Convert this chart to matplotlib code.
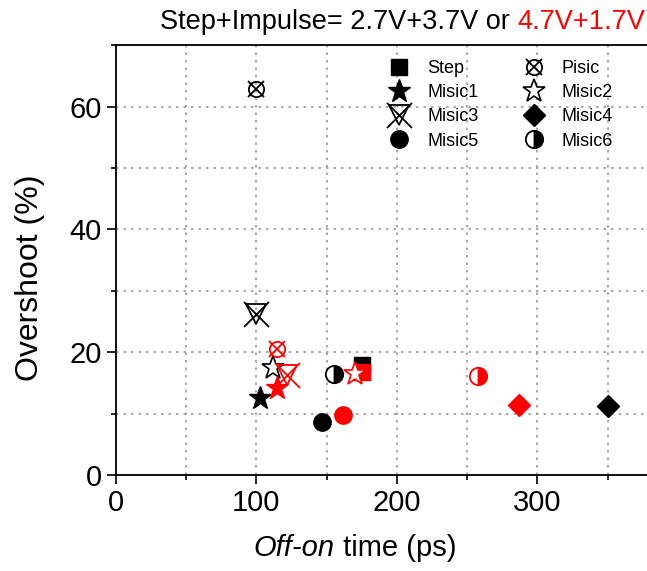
import matplotlib
matplotlib.use("Agg")
import matplotlib.pyplot as plt
from matplotlib.legend_handler import HandlerTuple
from matplotlib.ticker import MultipleLocator
from matplotlib.offsetbox import TextArea, HPacker, AnchoredOffsetbox

plt.rcParams['font.family'] = ['Liberation Sans', 'DejaVu Sans']

series = ["Step", "Pisic", "Misic1", "Misic2", "Misic3", "Misic4", "Misic5", "Misic6"]
# black: 2.7V+3.7V, red: 4.7V+1.7V
black_x = [175, 100, 102.5, 112, 100, 350, 147, 155]
black_y = [17.9, 62.9, 12.5, 17.5, 26.3, 11.2, 8.6, 16.4]
red_x = [175, 114.5, 114.5, 170, 121.6, 287, 162, 257.5]
red_y = [16.8, 20.6, 14.1, 16.4, 16.3, 11.4, 9.8, 16.1]

fig = plt.figure(figsize=(6.47, 5.71), dpi=100)
ax = fig.add_axes([0.179, 0.168, 0.821, 0.753])


def draw(name, x, y, c, ax=ax):
    arts = []
    kw = dict(linestyle='none')
    if name == "Step":
        arts.append(ax.plot([x], [y], marker='s', ms=11, color=c, **kw)[0])
    elif name == "Pisic":
        arts.append(ax.plot([x], [y], marker='o', ms=11, mfc='none', mec=c, mew=1.3, **kw)[0])
        arts.append(ax.plot([x], [y], marker='x', ms=12, mec=c, mew=1.3, **kw)[0])
    elif name == "Misic1":
        arts.append(ax.plot([x], [y], marker='*', ms=17, color=c, **kw)[0])
    elif name == "Misic2":
        arts.append(ax.plot([x], [y], marker='*', ms=17, mfc='white', mec=c, mew=1.2, **kw)[0])
    elif name == "Misic3":
        arts.append(ax.plot([x], [y], marker='v', ms=14, mfc='none', mec=c, mew=1.3, **kw)[0])
        arts.append(ax.plot([x], [y], marker='x', ms=18, mec=c, mew=1.3, **kw)[0])
    elif name == "Misic4":
        arts.append(ax.plot([x], [y], marker='D', ms=11, color=c, **kw)[0])
    elif name == "Misic5":
        arts.append(ax.plot([x], [y], marker='o', ms=12.5, color=c, **kw)[0])
    elif name == "Misic6":
        arts.append(ax.plot([x], [y], marker='o', ms=12.5, fillstyle='right', mfc=c,
                            mfcalt='white', mec=c, mew=1.3, **kw)[0])
    return arts

for i, n in enumerate(series):
    draw(n, black_x[i], black_y[i], 'black')
for i, n in enumerate(series):
    draw(n, red_x[i], red_y[i], 'red')

ax.set_xlim(0, 378)
ax.set_ylim(0, 70)
ax.xaxis.set_major_locator(MultipleLocator(100))
ax.xaxis.set_minor_locator(MultipleLocator(50))
ax.yaxis.set_major_locator(MultipleLocator(20))
ax.yaxis.set_minor_locator(MultipleLocator(10))
ax.grid(True, which='both', linestyle=(0, (1.5, 3)), color='#999999', linewidth=1.2)
ax.set_axisbelow(True)
ax.tick_params(which='major', direction='out', length=6.5, width=1.2, labelsize=21)
ax.tick_params(which='minor', direction='out', length=3.6, width=1.2)
ax.spines['right'].set_visible(False)
for s in ['left', 'bottom', 'top']:
    ax.spines[s].set_linewidth(1.3)

ax.set_ylabel("Overshoot (%)", fontsize=23)
ax.yaxis.set_label_coords(-0.134, 0.458)

ta1 = TextArea("Off-on", textprops=dict(fontsize=21, fontstyle='italic'))
ta2 = TextArea(" time (ps)", textprops=dict(fontsize=21))
pk = HPacker(children=[ta1, ta2], align='baseline', pad=0, sep=0)
ab = AnchoredOffsetbox(loc='center', child=pk, pad=0, frameon=False,
                       bbox_to_anchor=(0.45, -0.17), bbox_transform=ax.transAxes, borderpad=0)
ax.add_artist(ab)

# title in two colours
tb1 = TextArea("Step+Impulse= 2.7V+3.7V or ", textprops=dict(fontsize=19.5, color='black'))
tb2 = TextArea("4.7V+1.7V", textprops=dict(fontsize=19.5, color='red'))
pk2 = HPacker(children=[tb1, tb2], align='baseline', pad=0, sep=0)
ab2 = AnchoredOffsetbox(loc='center right', child=pk2, pad=0, frameon=False,
                        bbox_to_anchor=(0.997, 0.962), bbox_transform=fig.transFigure, borderpad=0)
fig.add_artist(ab2)

# legend
lfig, lax = plt.subplots()
handles = []
for n in series:
    arts = draw(n, 0, 0, 'black', ax=lax)
    handles.append(tuple(arts))
plt.close(lfig)
order = [0, 2, 4, 6, 1, 3, 5, 7]
hs = [handles[i] for i in order]
ls = [series[i] for i in order]
ax.legend(hs, ls, ncol=2, loc='upper right', bbox_to_anchor=(0.96, 0.995), frameon=False,
          fontsize=13, handler_map={tuple: HandlerTuple(ndivide=1)}, handlelength=1.5,
          handletextpad=0.8, columnspacing=2.3, labelspacing=0.4, borderpad=0.2)

fig.savefig("out.png", dpi=100)
